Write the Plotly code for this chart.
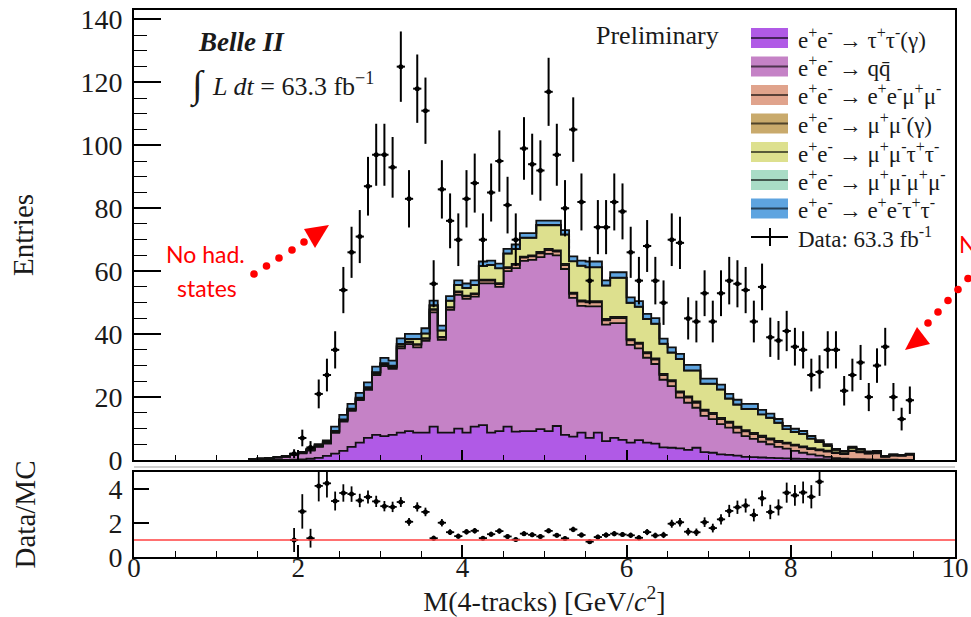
import numpy as np
import plotly.graph_objects as go

# ---------------- data ----------------
# MC bins: 0.1 GeV wide, from 1.4 to 9.5 GeV (centres 1.45 ... 9.45)
bin_lo, bin_hi, bin_w = 1.4, 9.5, 0.1

tautau = [0, 0, 0, 0, 0.05, 0.1, 0.2, 0.4, 0.7, 1.3,
          2.0, 2.9, 4.2, 5.5, 7.0, 8.0, 7.6, 8.0, 8.7, 9.2,
          8.7, 8.7, 10.6, 8.7, 8.7, 10.0, 8.7, 10.6, 11.1, 8.7,
          9.2, 10.6, 9.0, 9.2, 9.2, 9.8, 9.2, 10.8, 8.0, 7.4,
          8.7, 7.0, 8.7, 6.0, 7.0, 6.4, 5.5, 6.3, 5.5, 5.2,
          4.0, 3.9, 3.7, 3.2, 3.9, 2.5, 2.3, 1.8, 1.6, 1.4,
          1.0, 0.9, 0.8, 0.7, 0.6, 0.5, 0.4, 0.35, 0.3, 0.25,
          0.2, 0.15, 0.1, 0.05, 0.05, 0.03, 0.02, 0.02, 0.01, 0.01, 0.01]

qqbar = [0.2, 0.35, 0.5, 0.75, 0.95, 1.5, 1.9, 2.6, 3.5, 3.9,
         6.6, 9.3, 11.4, 13.5, 15.3, 19.0, 22.2, 21.0, 26.8, 27.6,
         27.1, 29.2, 36.3, 29.5, 39.0, 42.5, 42.5, 41.3, 45.0, 47.4,
         45.8, 49.4, 52.0, 54.1, 54.4, 54.7, 56.3, 54.2, 52.7, 44.1,
         40.3, 41.8, 40.1, 37.0, 36.5, 37.1, 31.1, 29.2, 27.0, 25.3,
         21.5, 19.6, 16.1, 15.0, 12.7, 11.5, 10.7, 9.6, 8.7, 7.3,
         6.6, 5.8, 5.0, 4.3, 3.6, 3.1, 2.5, 1.95, 1.5, 1.15,
         0.8, 0.45, 0.3, 0.25, 0.2, 0.17, 0.13, 0.08, 0.09, 0.04, 0.04]

eemumu = [0.02, 0.03, 0.05, 0.06, 0.08, 0.1, 0.12, 0.15, 0.15, 0.2,
          0.25, 0.3, 0.3, 0.35, 0.35, 0.4, 0.4, 0.4, 0.5, 0.6,
          0.8, 0.6, 0.8, 0.7, 0.7, 0.8, 0.8, 0.8, 0.9, 0.9,
          0.9, 1.0, 1.0, 1.0, 1.1, 1.2, 1.2, 1.2, 1.2, 1.3,
          1.3, 1.3, 1.3, 1.4, 1.6, 1.6, 1.4, 1.4, 1.4, 1.4,
          1.5, 1.5, 1.6, 1.6, 1.6, 1.6, 1.6, 1.6, 1.5, 1.5,
          1.5, 1.5, 1.5, 1.5, 1.5, 1.6, 1.7, 1.7, 1.7, 1.7,
          1.7, 1.6, 1.5, 2.5, 2.2, 1.8, 2.0, 0.9, 1.3, 1.3, 1.6]

mumu = [0.02, 0.03, 0.03, 0.04, 0.05, 0.05, 0.06, 0.08, 0.08, 0.1,
        0.1, 0.1, 0.1, 0.15, 0.15, 0.15, 0.15, 0.15, 0.2, 0.2,
        0.2, 0.2, 0.2, 0.2, 0.2, 0.25, 0.25, 0.25, 0.3, 0.3,
        0.3, 0.3, 0.3, 0.3, 0.3, 0.4, 0.4, 0.4, 0.4, 0.4,
        0.4, 0.4, 0.4, 0.4, 0.4, 0.4, 0.4, 0.4, 0.4, 0.4,
        0.4, 0.4, 0.4, 0.4, 0.4, 0.4, 0.4, 0.4, 0.4, 0.4,
        0.4, 0.4, 0.4, 0.35, 0.35, 0.3, 0.3, 0.3, 0.3, 0.25,
        0.25, 0.2, 0.2, 0.2, 0.15, 0.15, 0.15, 0.1, 0.1, 0.1, 0.1]

mumutautau = [0.02, 0.04, 0.04, 0.05, 0.05, 0.1, 0.12, 0.12, 0.17, 0.2,
              0.25, 0.3, 0.3, 0.3, 0.3, 0.35, 0.35, 0.35, 0.6, 0.8,
              1.6, 1.5, 1.2, 2.0, 2.0, 2.05, 2.35, 2.65, 4.3, 4.6,
              4.7, 4.3, 4.7, 6.0, 5.6, 8.5, 7.5, 8.0, 9.3, 9.9,
              11.0, 10.7, 10.7, 10.6, 12.4, 12.4, 11.5, 11.4, 10.5, 11.0,
              9.5, 8.7, 10.3, 8.2, 9.8, 8.2, 9.2, 9.0, 7.3, 7.0,
              6.7, 7.6, 6.8, 6.55, 5.75, 4.3, 4.0, 4.0, 3.0, 2.35,
              1.55, 0.8, 0.6, 0.9, 0.7, 0.4, 0.4, 0.15, 0.2, 0.1, 0.15]

mu4 = [0, 0, 0, 0, 0, 0.01, 0.01, 0.02, 0.02, 0.03,
       0.03, 0.04, 0.04, 0.05, 0.05, 0.05, 0.05, 0.05, 0.06, 0.06,
       0.06, 0.06, 0.07, 0.07, 0.07, 0.08, 0.08, 0.08, 0.08, 0.08,
       0.08, 0.08, 0.08, 0.08, 0.08, 0.08, 0.08, 0.08, 0.08, 0.08,
       0.08, 0.08, 0.08, 0.07, 0.07, 0.07, 0.07, 0.07, 0.06, 0.06,
       0.06, 0.06, 0.05, 0.05, 0.05, 0.05, 0.05, 0.04, 0.04, 0.04,
       0.04, 0.04, 0.03, 0.03, 0.03, 0.03, 0.03, 0.02, 0.02, 0.02,
       0.02, 0.02, 0.02, 0.01, 0.01, 0.01, 0.01, 0.01, 0.01, 0.01, 0.01]

eetautau = [0.04, 0.05, 0.08, 0.1, 0.12, 0.15, 0.2, 0.25, 0.4, 0.5,
            1.4, 1.4, 1.5, 1.5, 1.5, 1.7, 1.7, 1.6, 1.8, 1.6,
            1.6, 1.6, 1.5, 1.5, 1.4, 1.4, 1.4, 1.4, 1.4, 1.4,
            1.4, 1.4, 1.4, 1.4, 1.4, 1.4, 1.4, 1.4, 1.4, 1.5,
            1.6, 1.8, 1.8, 1.6, 1.7, 1.7, 1.7, 1.7, 1.6, 1.7,
            1.6, 1.6, 1.6, 1.8, 1.8, 1.6, 1.6, 1.5, 1.5, 1.5,
            1.6, 1.6, 1.4, 1.3, 1.2, 1.0, 1.0, 0.9, 0.8, 0.6,
            0.5, 0.3, 0.2, 0.3, 0.2, 0.15, 0.2, 0.05, 0.1, 0.05, 0.1]

# Data: bins from 1.9 to 9.5 GeV (centres 1.95 ... 9.45)
data_lo = 1.9
data_counts = [2, 7, 4, 21, 27, 35, 54, 66, 71, 87,
               97, 97, 93, 125, 83, 118, 111, 56, 86, 76,
               70, 83, 88, 70, 85, 95, 81, 70, 99, 94,
               92, 117, 97, 80, 105, 82, 57, 74, 74, 82,
               79, 66, 57, 68, 57, 50, 70, 69, 45, 44,
               53, 44, 53, 57, 56, 54, 44, 55, 39, 38,
               41, 36, 35, 27, 28, 35, 35, 22, 27, 31,
               20, 30, 36, 20, 13, 19]

labels = ["e<sup>+</sup>e<sup>-</sup> → τ<sup>+</sup>τ<sup>-</sup>(γ)",
          "e<sup>+</sup>e<sup>-</sup> → qq\u0304",
          "e<sup>+</sup>e<sup>-</sup> → e<sup>+</sup>e<sup>-</sup>μ<sup>+</sup>μ<sup>-</sup>",
          "e<sup>+</sup>e<sup>-</sup> → μ<sup>+</sup>μ<sup>-</sup>(γ)",
          "e<sup>+</sup>e<sup>-</sup> → μ<sup>+</sup>μ<sup>-</sup>τ<sup>+</sup>τ<sup>-</sup>",
          "e<sup>+</sup>e<sup>-</sup> → μ<sup>+</sup>μ<sup>-</sup>μ<sup>+</sup>μ<sup>-</sup>",
          "e<sup>+</sup>e<sup>-</sup> → e<sup>+</sup>e<sup>-</sup>τ<sup>+</sup>τ<sup>-</sup>"]
data_label = "Data: 63.3 fb<sup>-1</sup>"
colors = ["#B05AE6", "#C582C6", "#E0A38C", "#C9AA6C", "#DDE08E", "#A9DCC6", "#5EA4E0"]
components = [tautau, qqbar, eemumu, mumu, mumutautau, mu4, eetautau]

# ---------------- geometry helpers ----------------
W, H = 971, 617
ML, MR, MT, MB = 134, 16, 10, 60
PW, PH = W - ML - MR, H - MT - MB
SERIF = "Liberation Serif"
SANS = "Lato"
TICK_SIZE = 28
TITLE_SIZE = 29


def P(x, y):
    return (x - ML) / PW, (H - MB - y) / PH


main_bottom = P(0, 460)[1]
ratio_top = P(0, 472)[1]

fig = go.Figure()

# ---------------- stacked histogram ----------------
nb = len(tautau)
edges = np.round(bin_lo + bin_w * np.arange(nb + 1), 3)
cum = np.zeros(nb)
for i, (vals, col) in enumerate(zip(components, colors)):
    cum = cum + np.asarray(vals, dtype=float)
    xs = np.concatenate([[edges[0]], edges[:-1], [edges[-1], edges[-1]]])
    ys = np.concatenate([[0.0], cum, [cum[-1], 0.0]])
    fig.add_trace(go.Scatter(
        x=xs, y=ys, mode="lines",
        line=dict(shape="hv", color="#111111", width=1.8),
        fill="tozeroy" if i == 0 else "tonexty", fillcolor=col,
        xaxis="x", yaxis="y", hoverinfo="skip", showlegend=False))
mc_total = cum

# ---------------- data ----------------
data = np.asarray(data_counts, dtype=float)
nd = len(data)
dcent = np.round(data_lo + bin_w * (np.arange(nd) + 0.5), 3)
mc_cent = np.round(edges[:-1] + bin_w / 2, 3)
idx = np.searchsorted(mc_cent, dcent - 1e-6)
mc_at_data = mc_total[idx]

fig.add_trace(go.Scatter(
    x=dcent, y=data, mode="markers",
    marker=dict(color="black", size=5),
    error_y=dict(type="data", array=np.sqrt(data), color="black", thickness=2, width=0),
    error_x=dict(type="constant", value=bin_w / 2, color="black", thickness=2, width=0),
    xaxis="x", yaxis="y", showlegend=False))

ratio = data / mc_at_data
ratio_err = np.sqrt(data) / mc_at_data
fig.add_trace(go.Scatter(
    x=dcent, y=ratio, mode="markers",
    marker=dict(color="black", size=5),
    error_y=dict(type="data", array=ratio_err, color="black", thickness=1.8, width=0),
    error_x=dict(type="constant", value=bin_w / 2, color="black", thickness=1.8, width=0),
    xaxis="x2", yaxis="y2", showlegend=False, cliponaxis=True))

# ---------------- axes ----------------
tickfont = dict(family=SERIF, size=TICK_SIZE, color="#1a1a1a")
common = dict(showgrid=False, zeroline=False, showline=True, linewidth=2,
              linecolor="black", mirror=True, ticks="inside", tickcolor="black")

fig.update_layout(
    width=W, height=H, template="none",
    margin=dict(l=ML, r=MR, t=MT, b=MB),
    paper_bgcolor="white", plot_bgcolor="white", showlegend=False,
    font=dict(family=SERIF, color="#1a1a1a"),
    xaxis=dict(domain=[0, 1], anchor="y", range=[0, 10], dtick=2, tick0=0,
               ticklen=10, tickwidth=1.5, showticklabels=False,
               minor=dict(dtick=0.5, ticks="inside", ticklen=5, tickwidth=1.2, tickcolor="black"),
               **common),
    yaxis=dict(domain=[main_bottom, 1], anchor="x", range=[0, 143],
               tickvals=[0, 20, 40, 60, 80, 100, 120, 140],
               ticklen=27, tickwidth=1.5, tickfont=tickfont, ticklabelstandoff=4,
               minor=dict(dtick=5, ticks="inside", ticklen=13, tickwidth=1.2, tickcolor="black"),
               title=dict(text="Entries", font=dict(family=SERIF, size=TITLE_SIZE), standoff=38),
               **common),
    xaxis2=dict(domain=[0, 1], anchor="y2", range=[0, 10], dtick=2, tick0=0,
                ticklen=12, tickwidth=1.5, tickfont=dict(family=SERIF, size=27, color="#1a1a1a"),
                ticklabelstandoff=-14,
                minor=dict(dtick=0.5, ticks="inside", ticklen=6, tickwidth=1.2, tickcolor="black"),
                title=dict(text="M(4-tracks) [GeV/<i>c</i><sup>2</sup>]",
                           font=dict(family=SERIF, size=28), standoff=7),
                **common),
    yaxis2=dict(domain=[0, ratio_top], anchor="x2", range=[0, 5], tickvals=[0, 2, 4],
                ticklen=15, tickwidth=1.5, tickfont=tickfont, ticklabelstandoff=4,
                title=dict(text="Data/MC", font=dict(family=SERIF, size=TITLE_SIZE), standoff=64),
                **common),
)

shapes = []
annotations = []

# red reference line at ratio = 1
shapes.append(dict(type="line", xref="x2 domain", yref="y2", x0=0, x1=1, y0=1, y1=1,
                   line=dict(color="#FF4040", width=1.6)))
# light pad separator
x0p, yp = P(ML, 467)
x1p, _ = P(955, 467)
shapes.append(dict(type="line", xref="paper", yref="paper", x0=x0p, x1=x1p, y0=yp, y1=yp,
                   line=dict(color="#d0d0d0", width=2)))

# ---------------- custom legend ----------------
row_y = [38, 66.5, 95, 123.5, 152, 180, 208.5]
sx0, sx1, tx = 751, 788, 796
for yc, col, lab in zip(row_y, colors, labels):
    a, b = P(sx0, yc - 10)
    c, d = P(sx1, yc + 10)
    shapes.append(dict(type="rect", xref="paper", yref="paper", x0=a, x1=c, y0=d, y1=b,
                       fillcolor=col, line=dict(width=0)))
    m0, mm = P(sx0, yc)
    m1, _ = P(sx1, yc)
    shapes.append(dict(type="line", xref="paper", yref="paper", x0=m0, x1=m1, y0=mm, y1=mm,
                       line=dict(color="rgba(0,0,0,0.6)", width=2)))
    ax_, ay_ = P(tx, yc)
    annotations.append(dict(xref="paper", yref="paper", x=ax_, y=ay_, text=lab,
                            showarrow=False, xanchor="left", yanchor="middle",
                            font=dict(family=SERIF, size=23, color="#1a1a1a")))
yd = 237
m0, mm = P(sx0, yd)
m1, _ = P(sx1, yd)
shapes.append(dict(type="line", xref="paper", yref="paper", x0=m0, x1=m1, y0=mm, y1=mm,
                   line=dict(color="black", width=2)))
v0, vt = P(770, yd - 9)
_, vb = P(770, yd + 9)
shapes.append(dict(type="line", xref="paper", yref="paper", x0=v0, x1=v0, y0=vb, y1=vt,
                   line=dict(color="black", width=2)))
ax_, ay_ = P(tx, yd)
annotations.append(dict(xref="paper", yref="paper", x=ax_, y=ay_, text=data_label,
                        showarrow=False, xanchor="left", yanchor="middle",
                        font=dict(family=SERIF, size=23, color="#1a1a1a")))

# ---------------- texts ----------------
def txt(x, y, s, size, family=SERIF, color="#1a1a1a", xanchor="left"):
    px_, py_ = P(x, y)
    annotations.append(dict(xref="paper", yref="paper", x=px_, y=py_, text=s, showarrow=False,
                            xanchor=xanchor, yanchor="middle",
                            font=dict(family=family, size=size, color=color)))

txt(196, 42, "<b><i>Belle II</i></b>", 27)
txt(188, 85, "∫", 38)
txt(210, 84, "<i>L dt</i> = 63.3 fb<sup>−1</sup>", 26)
txt(594, 35, "Preliminary", 26)
txt(164, 254, "No had.", 23, SANS, "#FF0000")
txt(175, 288, "states", 23, SANS, "#FF0000")
txt(957, 244, "No had.", 23, SANS, "#FF0000")

# red dotted arrows
def dot(x, y, r=3.8):
    a, b = P(x - r, y - r)
    c, d = P(x + r, y + r)
    shapes.append(dict(type="circle", xref="paper", yref="paper", x0=a, x1=c, y0=d, y1=b,
                       fillcolor="#FF0000", line=dict(width=0)))


def tri(pts):
    conv = [P(x, y) for x, y in pts]
    path = "M {},{} L {},{} L {},{} Z".format(*[v for p in conv for v in p])
    shapes.append(dict(type="path", xref="paper", yref="paper", path=path,
                       fillcolor="#FF0000", line=dict(width=0)))


for x, y in [(254, 274), (266.5, 266), (279, 258), (292, 250), (304, 242)]:
    dot(x, y)
tri([(304, 229), (329, 225), (315, 248)])

for x, y in [(928, 323), (938, 312), (948, 300.5), (958, 289.5), (968, 278.5)]:
    dot(x, y)
tri([(905, 350), (917, 327), (930, 344)])

fig.update_layout(shapes=shapes, annotations=annotations)
fig.write_html("out.html")
